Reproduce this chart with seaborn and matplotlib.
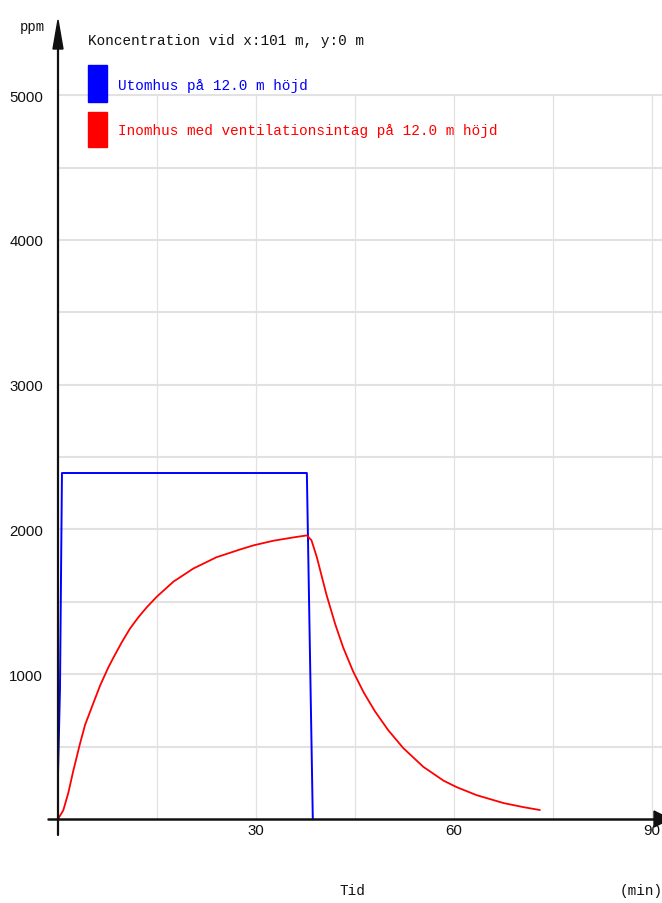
import numpy as np
import pandas as pd
import matplotlib
matplotlib.use("Agg")
import matplotlib.pyplot as plt
import seaborn as sns
from matplotlib.patches import Rectangle, Polygon
from matplotlib.lines import Line2D

# ---- labels -------------------------------------------------------------
title = "Koncentration vid x:101 m, y:0 m"
label_out = "Utomhus på 12.0 m höjd"
label_in = "Inomhus med ventilationsintag på 12.0 m höjd"
y_label = "ppm"
x_label = "Tid"
x_unit = "(min)"

x_ticks = [30, 60, 90]
x_minor = [15, 45, 75]
y_ticks = [1000, 2000, 3000, 4000, 5000]
y_minor = [500, 1500, 2500, 3500, 4500]

# ---- data: time (min) and concentration (ppm) ---------------------------
t_out = [0.0, 0.3, 0.6, 37.7, 38.6]
c_out = [310, 900, 2390, 2390, 0]

t_in = [0.0, 0.8, 1.56, 2.3, 3.33, 4.1, 5.1, 6.36, 7.6, 8.4, 9.65, 10.9,
        12.2, 13.4, 14.95, 17.5, 20.5, 24.0, 27.6, 29.6, 32.6, 35.65, 37.7,
        38.4, 39.2, 40.7, 42.0, 43.2, 44.7, 46.3, 48.0, 50.0, 52.3, 55.35,
        58.4, 60.4, 63.4, 67.5, 70.5, 73.0]
c_in = [0, 60, 180, 330, 520, 650, 770, 920, 1045, 1115, 1220, 1315,
        1395, 1460, 1535, 1640, 1730, 1808, 1862, 1890, 1922, 1945, 1959,
        1925, 1810, 1545, 1345, 1185, 1020, 875, 745, 615, 490, 360,
        265, 220, 165, 110, 82, 62]

BLUE = "#0000ff"
RED = "#ff0000"
INK = "#111111"
MONO = ["Liberation Mono", "DejaVu Sans Mono"]
SANS = ["Liberation Sans", "DejaVu Sans"]

sns.set_style("white")

W, H = 662, 904
fig = plt.figure(figsize=(W / 100, H / 100), dpi=100)


def fx(px):
    return px / W


def fy(py):
    return 1 - py / H


ax = fig.add_axes([fx(58), fy(820), fx(662) - fx(58), fy(95) - fy(820)])

df_out = pd.DataFrame({"t": t_out, "c": c_out})
df_in = pd.DataFrame({"t": t_in, "c": c_in})
sns.lineplot(data=df_out, x="t", y="c", ax=ax, color=BLUE, lw=1.4,
             sort=False, estimator=None, zorder=3)
sns.lineplot(data=df_in, x="t", y="c", ax=ax, color=RED, lw=1.3,
             sort=False, estimator=None, zorder=3)

ax.set_xlim(0, 91.5)
ax.set_ylim(0, 5008)
ax.set_xticks(x_ticks)
ax.set_xticks(x_minor, minor=True)
ax.set_yticks(y_ticks)
ax.set_yticks(y_minor, minor=True)
ax.set_xticklabels([str(v) for v in x_ticks])
ax.set_yticklabels([str(v) for v in y_ticks])
ax.set_xlabel("")
ax.set_ylabel("")
ax.grid(False)
ax.grid(True, axis="y", which="both", color="#e2e2e2", lw=1.5, zorder=0)
ax.grid(True, axis="x", which="both", color="#e2e2e2", lw=0.9, zorder=0)
ax.tick_params(axis="both", which="both", length=0)
ax.tick_params(axis="y", pad=10.8, labelsize=10.8)
ax.tick_params(axis="x", pad=3, labelsize=10.8)
for lab in ax.get_xticklabels() + ax.get_yticklabels():
    lab.set_family(SANS)
    lab.set_color(INK)
for s in ax.spines.values():
    s.set_visible(False)

# ---- axis lines with arrow heads ----------------------------------------
fig.add_artist(Line2D([fx(58), fx(58)], [fy(836), fy(45)], color=INK, lw=1.6))
fig.add_artist(Polygon([(fx(53), fy(50)), (fx(63), fy(50)), (fx(58), fy(21))],
                       closed=True, color=INK, transform=fig.transFigure))
fig.add_artist(Line2D([fx(48), fx(656)], [fy(820), fy(820)], color=INK, lw=1.8))
fig.add_artist(Polygon([(fx(654), fy(812)), (fx(654), fy(828)), (fx(670), fy(820))],
                       closed=True, color=INK, transform=fig.transFigure))

# ---- texts ----------------------------------------------------------------
fig.text(fx(32), fy(27), y_label, ha="center", va="center", fontsize=10,
         family=MONO, color=INK)
fig.text(fx(88), fy(41), title, ha="left", va="center", fontsize=10.4,
         family=MONO, color=INK)
fig.text(fx(352), fy(891), x_label, ha="center", va="center", fontsize=10.4,
         family=MONO, color=INK)
fig.text(fx(641), fy(891), x_unit, ha="center", va="center", fontsize=10.4,
         family=MONO, color=INK)

# ---- legend ---------------------------------------------------------------
fig.add_artist(Rectangle((fx(88), fy(103)), fx(107) - fx(88), fy(66) - fy(103),
                         color=BLUE, transform=fig.transFigure))
fig.add_artist(Rectangle((fx(88), fy(148)), fx(107) - fx(88), fy(113) - fy(148),
                         color=RED, transform=fig.transFigure))
fig.text(fx(118), fy(86), label_out, ha="left", va="center", fontsize=10.4,
         family=MONO, color=BLUE)
fig.text(fx(118), fy(131), label_in, ha="left", va="center", fontsize=10.4,
         family=MONO, color=RED)

fig.savefig("out.png", dpi=100, facecolor="white")
